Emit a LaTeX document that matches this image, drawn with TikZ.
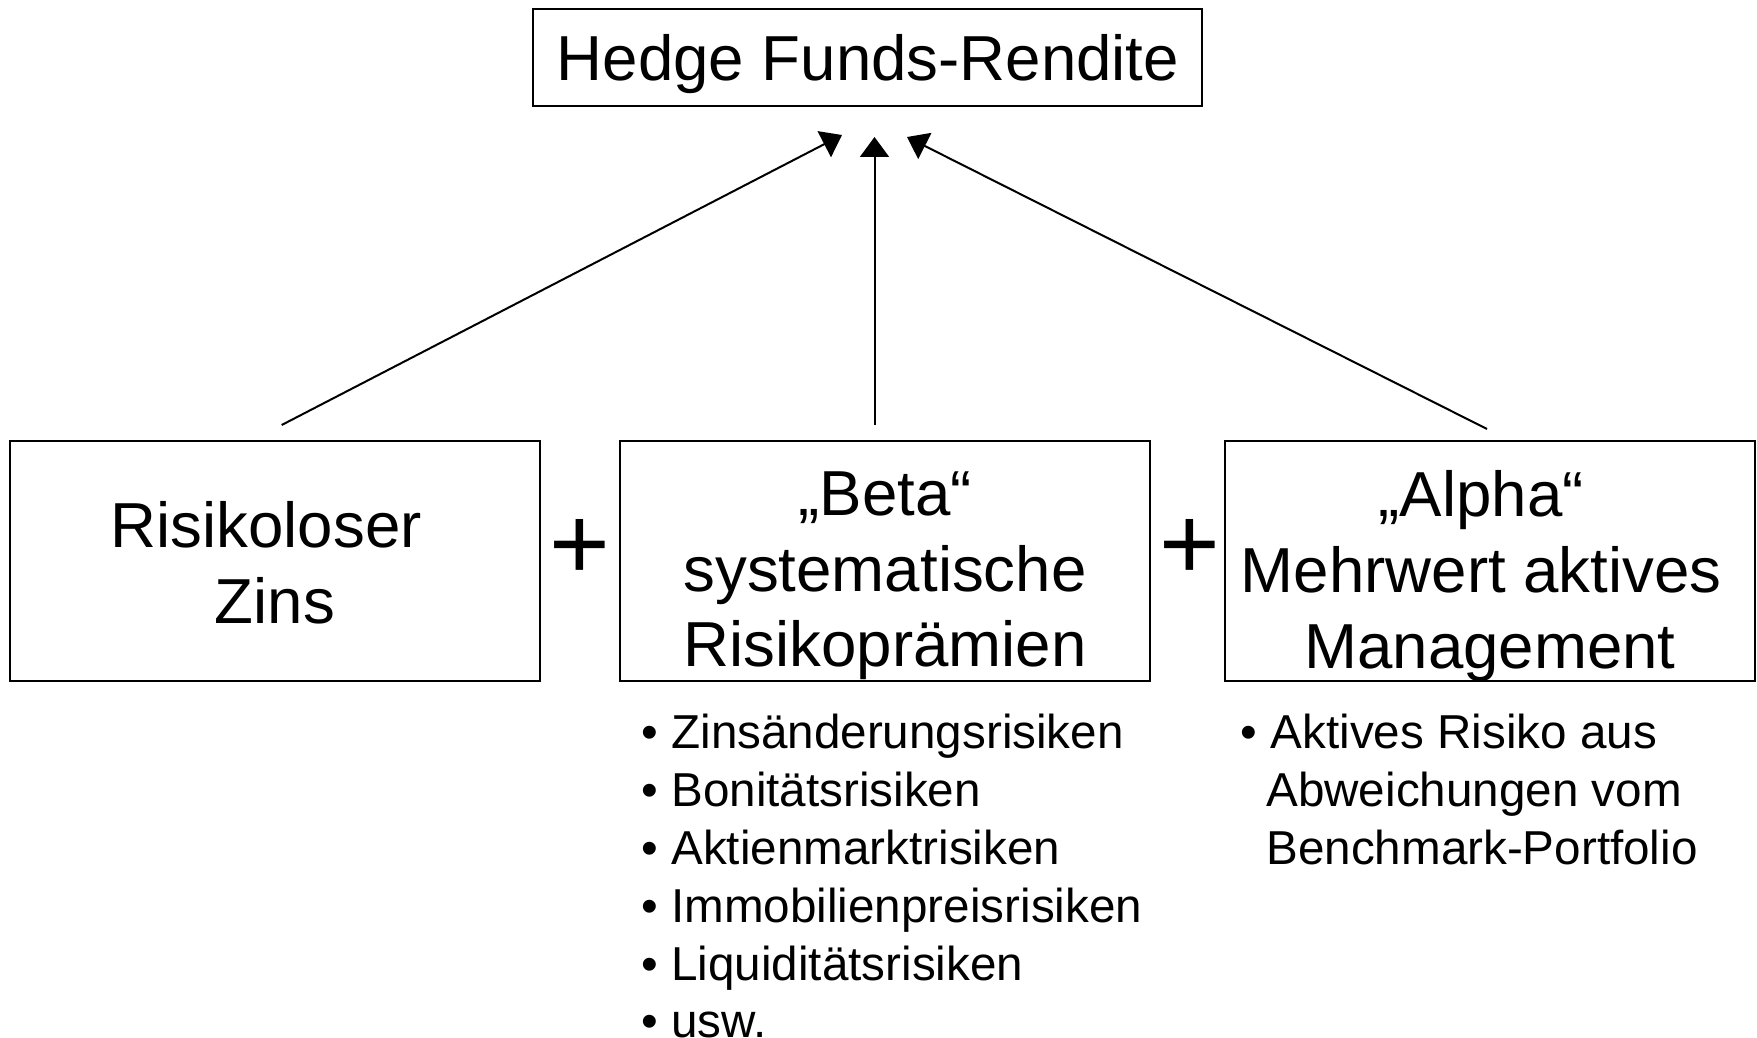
\documentclass[tikz,border=0pt]{standalone}
\usepackage{fontspec}
\setmainfont{Liberation Sans}
\usetikzlibrary{arrows.meta}
\begin{document}
\begin{tikzpicture}[x=0.5pt,y=-0.5pt,
  box/.style={draw, line width=1pt, inner sep=0pt,
    minimum width=265pt, minimum height=120pt},
  boxtext/.style={inner sep=0pt, align=center,
    font=\fontsize{31.8}{37.8}\selectfont},
  arr/.style={line width=1pt, -{Triangle[length=10pt,width=14.5pt]}},
  plussign/.style={font=\fontsize{52}{60}\selectfont, inner sep=0pt},
  bullets/.style={anchor=north west, align=left, inner sep=0pt,
    font=\fontsize{23.8}{28.9}\selectfont}]
\useasboundingbox (0,0) rectangle (1757,1038);
\node[draw, line width=1pt, inner sep=0pt, minimum width=334.5pt, minimum height=48.5pt] (top) at (867.5,57.5) {};
\node[boxtext] (toptext) at (868,64.5) {Hedge Funds-Rendite};
\node[box] (zins) at (275,561) {};
\node[boxtext] (zinstext) at (275,563) {Risikoloser\kern0.278em\\Zins};
\node[box] (beta) at (885,561) {};
\node[boxtext] (betatext) at (885,576) {„Beta“\\systematische\\Risikoprämien};
\node[box] (alpha) at (1490,561) {};
\node[boxtext] (alphatext) at (1490,576) {„Alpha“\kern0.278em\\Mehrwert aktives\kern0.278em\\Management};
\node[plussign] (p1) at (580,549) {+};
\node[plussign] (p2) at (1190,549) {+};
\coordinate (s1) at (281.7,425);
\coordinate (e1) at (842,135);
\coordinate (s2) at (874.5,425);
\coordinate (e2) at (874.5,137);
\coordinate (s3) at (1487,429);
\coordinate (e3) at (907,137);
\draw[arr] (s1) -- (e1);
\draw[arr] (s2) -- (e2);
\draw[arr] (s3) -- (e3);
\node[bullets] (betalist) at (671,714) {\llap{• }Zinsänderungsrisiken\\\llap{• }Bonitätsrisiken\\\llap{• }Aktienmarktrisiken\\\llap{• }Immobilienpreisrisiken\\\llap{• }Liquiditätsrisiken\\\llap{• }usw.};
\node[bullets] (alphalist) at (1266,714) {\hspace*{2.2pt}\llap{• }Aktives Risiko aus\\Abweichungen vom\\Benchmark-Portfolio};
\end{tikzpicture}
\end{document}
